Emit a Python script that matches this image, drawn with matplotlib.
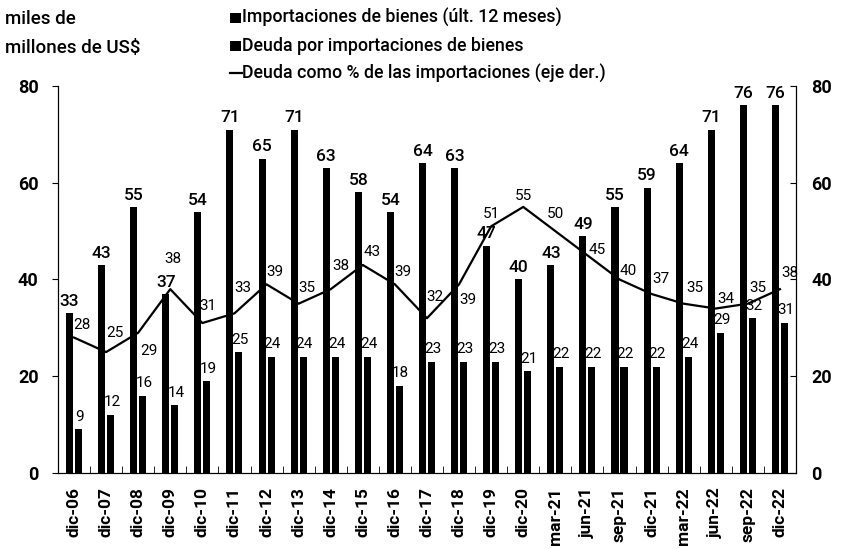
import matplotlib.pyplot as plt
import numpy as np

# series (miles de millones de US$ and %)
periodos = ["dic-06", "dic-07", "dic-08", "dic-09", "dic-10", "dic-11", "dic-12",
            "dic-13", "dic-14", "dic-15", "dic-16", "dic-17", "dic-18", "dic-19",
            "dic-20", "mar-21", "jun-21", "sep-21", "dic-21", "mar-22", "jun-22",
            "sep-22", "dic-22"]
importaciones = [33, 43, 55, 37, 54, 71, 65, 71, 63, 58, 54, 64, 63, 47,
                 40, 43, 49, 55, 59, 64, 71, 76, 76]
deuda = [9, 12, 16, 14, 19, 25, 24, 24, 24, 24, 18, 23, 23, 23,
         21, 22, 22, 22, 22, 24, 29, 32, 31]
deuda_pct = [28, 25, 29, 38, 31, 33, 39, 35, 38, 43, 39, 32, 39, 51,
             55, 50, 45, 40, 37, 35, 34, 35, 38]

# label offsets (points) for the % line
pct_off = [(6, 9), (6, 14), (8, -13), (2, 22), (4, 12), (6, 18), (6, 9), (6, 11),
           (7, 17), (7, 9), (6, 9), (6, 15), (6, -11), (0, 9), (0, 8), (0, 12),
           (7, 4), (6, 6), (7, 11), (8, 11), (7, 7), (7, 11), (7, 12)]

plt.rcParams['font.family'] = ['Roboto', 'DejaVu Sans']

fig = plt.figure(figsize=(8.44, 5.49), dpi=100)
ax = fig.add_axes([0.0687, 0.1384, 0.8744, 0.705])
ax2 = ax.twinx()

x = np.arange(len(periodos))
w = 0.22
ax.bar(x - 0.14, importaciones, w, color='black')
ax.bar(x + 0.14, deuda, w, color='black')
ax2.plot(x, deuda_pct, color='black', lw=1.6)

for i in range(len(x)):
    ax.annotate(str(importaciones[i]), (x[i] - 0.14, importaciones[i]),
                xytext=(0, 3), textcoords='offset points', ha='center',
                va='bottom', fontsize=12.5, fontweight='medium')
    ax.annotate(str(deuda[i]), (x[i] + 0.18, deuda[i]),
                xytext=(0, 4), textcoords='offset points', ha='center',
                va='bottom', fontsize=11)
    ax2.annotate(str(deuda_pct[i]), (x[i], deuda_pct[i]),
                 xytext=pct_off[i], textcoords='offset points', ha='center',
                 va='center', fontsize=11)

for a in (ax, ax2):
    a.set_ylim(0, 80)
    a.set_yticks([0, 20, 40, 60, 80])
    a.spines['top'].set_visible(False)
    a.set_xlim(-0.5, len(x) - 0.5)
ax.tick_params(axis='y', direction='out', length=4, labelsize=13, pad=10)
ax2.tick_params(axis='y', direction='in', length=4, labelsize=13, pad=11)
for lab in ax.get_yticklabels() + ax2.get_yticklabels():
    lab.set_fontweight('bold')

ax.set_xticks(x)
ax.set_xticklabels(periodos, rotation=90, fontsize=12.5, fontweight='bold')
ax.tick_params(axis='x', which='major', length=0, pad=10)
ax.set_xticks(np.arange(-0.5, len(x)), minor=True)
ax.tick_params(axis='x', which='minor', direction='in', length=5)

# legend and unit text at the top
fig.text(0.006, 0.965, "miles de", fontsize=13.5, fontweight='medium', va='center')
fig.text(0.006, 0.913, "millones de US$", fontsize=13.5, fontweight='medium', va='center')
leg_y = [0.968, 0.916, 0.867]
leg_txt = ["Importaciones de bienes (últ. 12 meses)",
           "Deuda por importaciones de bienes",
           "Deuda como % de las importaciones (eje der.)"]
for k in range(3):
    if k < 2:
        fig.add_artist(plt.Rectangle((0.272, leg_y[k] - 0.009), 0.014, 0.018,
                                     transform=fig.transFigure, facecolor='black',
                                     edgecolor='none'))
    else:
        fig.add_artist(plt.Line2D([0.272, 0.287], [leg_y[k], leg_y[k]],
                                  transform=fig.transFigure, color='black', lw=1.6))
    fig.text(0.287, leg_y[k], leg_txt[k], fontsize=12.8, fontweight='medium', va='center')

fig.savefig("out.png", dpi=100)
